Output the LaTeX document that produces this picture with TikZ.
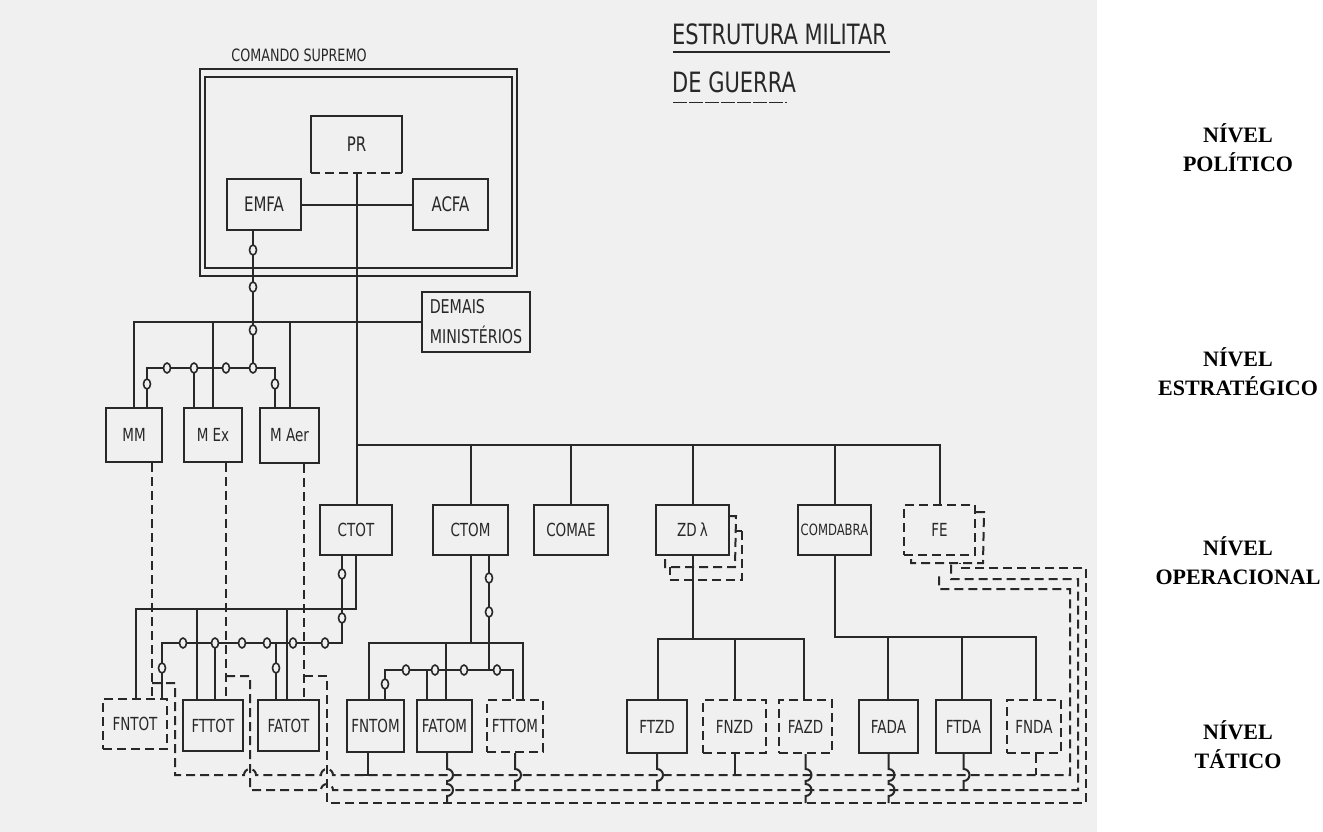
\documentclass[tikz,border=0pt]{standalone}
\usepackage{fontspec}
\setmainfont{Liberation Serif}
\newfontfamily\lett[FakeStretch=0.75]{DejaVu Sans}
\definecolor{scan}{RGB}{240,240,240}
\definecolor{ink}{RGB}{40,40,40}
\tikzset{
  conn/.style={draw=ink, line width=2pt},
  dconn/.style={conn, dash pattern=on 9pt off 5pt},
  box/.style={draw=ink, line width=2pt, fill=scan, inner sep=0pt, text=ink,
    font=\lett\fontsize{18}{18}\selectfont},
  dbox/.style={box, dash pattern=on 9pt off 5pt},
  ring/.style={draw=ink, line width=1.6pt, fill=scan},
  lvl/.style={font=\bfseries\fontsize{22}{29}\selectfont, align=center, text=black},
  lettering/.style={text=ink, inner sep=0pt},
}
\begin{document}
\begin{tikzpicture}[x=1pt,y=-1pt]
\fill[scan] (0,0) rectangle (1097,832);
\fill[white] (1097,0) rectangle (1323,832);
\useasboundingbox (0,0) rectangle (1323,832);

% titles
\node[lettering, font=\lett\fontsize{17}{17}\selectfont] (cst) at (299,55) {COMANDO SUPREMO};
\node[lettering, font=\lett\fontsize{28}{28}\selectfont, anchor=base west] (t1) at (672,45) {ESTRUTURA MILITAR};
\node[lettering, font=\lett\fontsize{28}{28}\selectfont, anchor=base west] (t2) at (672,93) {DE GUERRA};
\draw[draw=ink, line width=1.6pt] (673,52) -- (890,52);
\draw[draw=ink, line width=1pt, dash pattern=on 14pt off 2pt] (673,103) -- (787,103);

% level labels
\node[lvl] (lp) at (1238,148) {NÍVEL\\POLÍTICO};
\node[lvl] (le) at (1238,372) {NÍVEL\\ESTRATÉGICO};
\node[lvl] (lo) at (1238,561) {NÍVEL\\OPERACIONAL};
\node[lvl] (lt) at (1238,745) {NÍVEL\\TÁTICO};

% comando supremo frame
\node[draw=ink, line width=2pt, minimum width=317, minimum height=207, inner sep=0pt] (cso) at (358.5,172.5) {};
\node[draw=ink, line width=2pt, minimum width=307, minimum height=191, inner sep=0pt] (csi) at (358.5,172.5) {};

% boxes
\node[box, draw=none, minimum width=89, minimum height=55, font=\lett\fontsize{20}{20}\selectfont] (PR) at (356.5,144.5) {PR};
\node[box, minimum width=74, minimum height=51, font=\lett\fontsize{20}{20}\selectfont] (EMFA) at (264,204.5) {EMFA};
\node[box, minimum width=75, minimum height=51, font=\lett\fontsize{20}{20}\selectfont] (ACFA) at (450.5,204.5) {ACFA};
\node[box, minimum width=108, minimum height=60, align=left, font=\lett\fontsize{19}{30}\selectfont] (DEM) at (476,322) {DEMAIS\\MINISTÉRIOS};
\node[box, minimum width=56, minimum height=54] (MM) at (134,435) {MM};
\node[box, minimum width=58, minimum height=54] (MEx) at (213,435) {M Ex};
\node[box, minimum width=59, minimum height=55] (MAer) at (289.5,435.5) {M Aer};

\node[box, minimum width=72, minimum height=50] (CTOT) at (356,530) {CTOT};
\node[box, minimum width=75, minimum height=50] (CTOM) at (470.5,530) {CTOM};
\node[box, minimum width=74, minimum height=50] (COMAE) at (571,530) {COMAE};
\node[box, minimum width=73, minimum height=50] (ZD) at (692.5,530) {ZD\,λ};
\node[box, minimum width=73, minimum height=50, font=\lett\fontsize{15.5}{16}\selectfont] (COMDA) at (834.5,530) {COMDABRA};
\node[dbox, minimum width=71, minimum height=50] (FE) at (939.5,530) {FE};

\node[dbox, minimum width=64, minimum height=50] (FNTOT) at (135,724) {FNTOT};
\node[box, minimum width=60, minimum height=51] (FTTOT) at (213,725.5) {FTTOT};
\node[box, minimum width=61, minimum height=51] (FATOT) at (288.5,725.5) {FATOT};
\node[box, minimum width=57, minimum height=52] (FNTOM) at (375.5,726) {FNTOM};
\node[box, minimum width=55, minimum height=52] (FATOM) at (444.5,726) {FATOM};
\node[dbox, minimum width=56, minimum height=52] (FTTOM) at (515,726) {FTTOM};
\node[box, minimum width=60, minimum height=53] (FTZD) at (657,726.5) {FTZD};
\node[dbox, minimum width=63, minimum height=53] (FNZD) at (734.5,726.5) {FNZD};
\node[dbox, minimum width=53, minimum height=53] (FAZD) at (805.5,726.5) {FAZD};
\node[box, minimum width=59, minimum height=53] (FADA) at (888.5,726.5) {FADA};
\node[box, minimum width=55, minimum height=53] (FTDA) at (963.5,726.5) {FTDA};
\node[dbox, minimum width=54, minimum height=53] (FNDA) at (1034,726.5) {FNDA};

% PR outline (dashed lower edge)
\draw[conn] (PR.south west) -- (PR.north west) -- (PR.north east) -- (PR.south east);
\draw[dconn] (PR.south west) -- (PR.south east);

% stacked outlines behind ZD and FE
\draw[dconn] (ZD.north east) ++(0,12) -- ++(6,0) -- (735,567) -- (665,567) -- (ZD.south -| 665,0);
\draw[dconn] (742,531) -- (735,531);
\draw[dconn] (742,531) -- (742,580) -- (670,580) -- (670,567);
\draw[dconn] (FE.north east) ++(0,8) -- ++(8,0) -- (983,563) -- (911,563) -- (FE.south -| 911,0);

% politico level
\draw[conn] (EMFA.east) -- (ACFA.west);
\draw[conn] (PR.south) -- (PR.south |- CTOT.north);
\draw[conn] (EMFA.south -| 253,0) -- (253,368);

% strategic
\draw[conn] (MM.north) |- (DEM.west);
\draw[conn] (MEx.north) -- (MEx.north |- DEM.west);
\draw[conn] (MAer.north) -- (MAer.north |- DEM.west);
\draw[conn] (MM.north -| 147,0) -- (147,368) -- (275,368) -- (MAer.north -| 275,0);
\draw[conn] (194,368) -- (MEx.north -| 194,0);

% operational bus
\coordinate (ob) at (356.5,445);
\draw[conn] (ob) -| (FE.north);
\foreach \n in {CTOM,COMAE,ZD,COMDA} \draw[conn] (\n.north) -- (\n.north |- ob);

% ministries dashed to tactical
\draw[dconn] (MM.south -| 152,0) -- (FNTOT.north -| 152,0);
\draw[dconn] (MEx.south -| 226,0) -- (FTTOT.north -| 226,0);
\draw[dconn] (MAer.south -| 304,0) -- (FATOT.north -| 304,0);

% CTOT subordinates
\draw[conn] (CTOT.south) -- (CTOT.south |- 0,609) -| (FNTOT.north -| 136,0);
\draw[conn] (197,609) -- (FTTOT.north -| 197,0);
\draw[conn] (287,609) -- (FATOT.north -| 287,0);
\draw[conn] (CTOT.south -| 342,0) -- (342,643) -- (162,643) -- (FNTOT.north -| 162,0);
\draw[conn] (215,643) -- (FTTOT.north -| 215,0);
\draw[conn] (276,643) -- (FATOT.north -| 276,0);

% CTOM subordinates
\draw[conn] (CTOM.south) -- (CTOM.south |- 0,643);
\draw[conn] (FNTOM.north -| 369,0) |- (523,643) -- (FTTOM.north -| 523,0);
\draw[conn] (446,643) -- (FATOM.north -| 446,0);
\draw[conn] (CTOM.south -| 489,0) -- (489,670);
\draw[conn] (FNTOM.north -| 385,0) -- (385,670) -- (513,670) -- (FTTOM.north -| 513,0);
\draw[conn] (427,670) -- (FATOM.north -| 427,0);

% ZD subordinates
\draw[conn] (FTZD.north -| 658,0) |- (804,639) -- (FAZD.north -| 804,0);
\draw[conn] (ZD.south) -- (ZD.south |- 0,639);
\draw[conn] (735,639) -- (FNZD.north -| 735,0);

% COMDABRA subordinates
\draw[conn] (COMDA.south) |- (1036,637) -- (FNDA.north -| 1036,0);
\draw[conn] (888,637) -- (FADA.north -| 888,0);
\draw[conn] (962,637) -- (FTDA.north -| 962,0);

% dashed coordination lines at the bottom
\draw[dconn] (152,683) -- (175,683) -- (175,775) -- (244,775) arc[start angle=180,end angle=360,radius=6]
  -- (321,775) arc[start angle=180,end angle=360,radius=6] -- (1070,775) -- (1070,589) -- (939,589) -- (939,575);
\draw[dconn] (226,676) -- (250,676) -- (250,790) -- (321,790) arc[start angle=180,end angle=360,radius=6]
  -- (1078,790) -- (1078,579) -- (951,579) -- (951,563);
\draw[dconn] (304,676) -- (327,676) -- (327,803) -- (1086,803) -- (1086,568) -- (960,568) -- (960,563);

% tactical drops onto the lines
\draw[conn] (FNTOM.south -| 368,0) -- (368,775) -- (360,775);
\draw[conn] (FATOM.south -| 447,0) -- (447,769) arc[start angle=-90,end angle=90,radius=6]
  -- (447,784) arc[start angle=-90,end angle=90,radius=6] -- (447,803);
\draw[conn] (FTTOM.south) -- (FTTOM.south |- 0,769) arc[start angle=-90,end angle=90,radius=6] -- (515,790);
\draw[conn] (FTZD.south) -- (FTZD.south |- 0,769) arc[start angle=-90,end angle=90,radius=6] -- (657,790);
\draw[conn] (FNZD.south -| 735,0) -- (735,775);
\draw[conn] (FAZD.south) -- (FAZD.south |- 0,769) arc[start angle=-90,end angle=90,radius=6]
  -- (805.5,784) arc[start angle=-90,end angle=90,radius=6] -- (805.5,803);
\draw[conn] (FADA.south) -- (FADA.south |- 0,769) arc[start angle=-90,end angle=90,radius=6]
  -- (888.5,784) arc[start angle=-90,end angle=90,radius=6] -- (888.5,803);
\draw[conn] (FTDA.south) -- (FTDA.south |- 0,769) arc[start angle=-90,end angle=90,radius=6] -- (963.5,790);
\draw[dconn] (FNDA.south -| 1036,0) -- (1036,775);

% rings
\foreach \p in {(253,250),(253,287),(253,330),(253,368),
  (147,384),(167,368),(194,368),(226,368),(275,384),
  (342,574),(342,618),(162,668),(183,643),(215,643),(242,643),(267,643),(293,643),(325,643),(276,668),
  (489,578),(489,612),(385,684),(406,670),(435,670),(464,670),(497,670)}
  \draw[ring] \p ellipse [x radius=3.5, y radius=5];
\end{tikzpicture}
\end{document}
